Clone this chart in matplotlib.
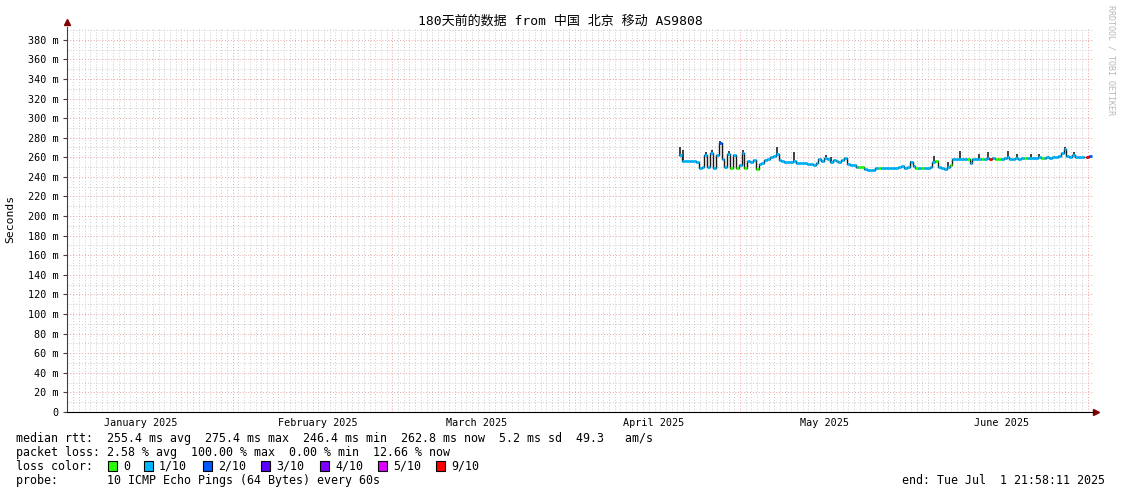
import matplotlib
matplotlib.use('Agg')
import matplotlib.pyplot as plt
import matplotlib.dates as mdates
from matplotlib.patches import Rectangle
import numpy as np
import pandas as pd

W, H, DPI = 1121, 494, 100
MONO = ['DejaVu Sans Mono', 'Noto Sans CJK SC']

title = '180天前的数据 from 中国 北京 移动 AS9808'
graph_start = pd.Timestamp('2025-01-02 21:58:11')
graph_end = pd.Timestamp('2025-07-01 21:58:11')
data_start = pd.Timestamp('2025-04-20 06:00')

# median rtt (ms), one value per 12 h step
median = [
    262, 256, 256, 256, 256, 256, 255, 249, 250, 262,
    250, 264, 249, 262, 275, 258, 250, 263, 249, 262,
    249, 252, 264, 249, 256, 255, 257, 248, 253, 254,
    257, 258, 260, 261, 263, 257, 256, 255, 255, 255,
    256, 254, 254, 254, 254, 253, 253, 252, 254, 258,
    256, 259, 258, 255, 257, 256, 255, 257, 259, 253,
    252, 252, 250, 250, 250, 248, 247, 247, 247, 249,
    249.5, 249, 249, 249.5, 249, 249.5, 249, 250, 251, 249.5,
    250, 255, 251, 249.5, 249.5, 249, 249.5, 249.5, 250, 255,
    256, 250, 249, 248.5, 250, 252, 258, 258.5, 258.5, 258,
    258.5, 258, 254, 258, 258.5, 258.5, 258, 258.5, 259, 258,
    259, 258, 258, 258.5, 259, 260, 258.5, 258.5, 259, 258.5,
    259, 259, 259.5, 259.5, 259.5, 259.5, 260, 259.5, 259.5, 260,
    259.5, 260, 260, 261, 264, 268, 261, 260, 262, 260,
    260, 260, np.nan, 260, 261,
]

# lost pings out of 10 for each step
loss = [
    1, 1, 1, 1, 1, 1, 1, 1, 1, 1,
    1, 1, 1, 1, 2, 1, 1, 1, 0, 1,
    0, 1, 1, 0, 1, 1, 1, 0, 1, 1,
    1, 1, 1, 1, 1, 1, 1, 1, 1, 1,
    1, 1, 1, 1, 1, 1, 1, 1, 1, 1,
    1, 1, 1, 1, 1, 1, 1, 1, 1, 1,
    1, 1, 1, 0, 0, 1, 1, 1, 1, 1,
    0, 1, 1, 1, 1, 1, 1, 1, 1, 1,
    1, 1, 1, 0, 1, 0, 1, 1, 1, 1,
    0, 1, 1, 1, 1, 0, 1, 1, 1, 1,
    1, 0, 1, 1, 1, 1, 0, 1, 1, 9,
    1, 0, 0, 1, 1, 1, 1, 1, 1, 1,
    1, 0, 1, 1, 1, 1, 1, 0, 1, 1,
    1, 1, 1, 1, 1, 1, 1, 1, 1, 1,
    1, 1, 1, 9, 2,
]

# smoke peaks (max ping) at some steps
spike_idx = [0, 1, 9, 11, 14, 17, 22, 34, 40, 51, 53, 81, 89, 94, 98, 105, 108, 115, 118, 123, 126, 135, 138]
spike_top = [270, 267, 265, 267, 277, 266, 267, 270, 265, 262, 260, 256, 261, 255, 266, 263, 265, 266, 263, 263, 263, 271, 265]

loss_codes = [0, 1, 2, 3, 4, 5, 9]
loss_labels = ['0', '1/10', '2/10', '3/10', '4/10', '5/10', '9/10']
loss_colors = ['#26ff00', '#00b8ff', '#0059ff', '#5e00ff', '#7e00ff', '#dd00ff', '#ff0000']

month_labels = ['January 2025', 'February 2025', 'March 2025', 'April 2025', 'May 2025', 'June 2025']

median = np.array(median, dtype=float)
loss = np.array(loss)
t = mdates.date2num(pd.date_range(data_start, periods=len(median), freq='12h'))
step = t[1] - t[0]

fig = plt.figure(figsize=(W / DPI, H / DPI), dpi=DPI)
ax = fig.add_axes([67 / W, 1 - 412 / H, (1093 - 67) / W, (412 - 27) / H])

# grid
minor_c = '#cccccc'
major_c = '#f0a0a0'
for d in pd.date_range('2025-01-03', '2025-07-01', freq='D'):
    c = major_c if d.day == 1 else minor_c
    ax.axvline(mdates.date2num(d), color=c, lw=0.7, ls=(0, (1, 2)), zorder=0)
for v in range(10, 393, 10):
    c = major_c if v % 20 == 0 else minor_c
    ax.axhline(v, color=c, lw=0.7, ls=(0, (1, 2)), zorder=0)

# median line with smoke
ax.plot(t, median, drawstyle='steps-post', color='#1a1a1a', lw=1.0, zorder=2)
ax.vlines(t[spike_idx] + step / 2, median[spike_idx], spike_top, color='#202020', lw=1.2, zorder=2)
for code, col in zip(loss_codes, loss_colors):
    m = loss == code
    if m.any():
        ax.hlines(median[m], t[m], t[m] + step, colors=col, lw=2.0, zorder=3)

# axes
for s in ['top', 'right']:
    ax.spines[s].set_visible(False)
ax.spines['left'].set_color('#404040')
ax.spines['bottom'].set_color('black')
ax.plot([0], [1.012], marker='^', color='#7f0000', ms=4, transform=ax.transAxes, clip_on=False)
ax.plot([1.003], [0], marker='>', color='#7f0000', ms=4, transform=ax.transAxes, clip_on=False)

yt = list(range(0, 381, 20))
ax.set_yticks(yt)
ax.set_yticklabels(['0'] + ['%d m' % v for v in yt[1:]], family=MONO, fontsize=7.3)
ax.tick_params(axis='y', length=3, width=0.8, pad=3, color='#404040')

# month labels near the middle of each month
label_days = pd.date_range('2025-01-01', periods=len(month_labels), freq='MS') + pd.Timedelta(days=14, hours=20)
ax.set_xticks(mdates.date2num(label_days))
ax.set_xticklabels(month_labels, family=MONO, fontsize=7.3)
ax.tick_params(axis='x', length=0, pad=4)

ax.set_xlim(mdates.date2num(graph_start), mdates.date2num(graph_end))
ax.set_ylim(0, 393)

fig.text(10 / W, 1 - 219 / H, 'Seconds', family=MONO, fontsize=8.2, rotation=90,
         ha='center', va='center')

fig.text(560 / W, 1 - 21 / H, title, family=MONO, fontsize=9.4, ha='center', va='center')
fig.text(1111 / W, 1 - 5 / H, 'RRDTOOL / TOBI OETIKER', family=MONO, fontsize=6,
         color='#b8b8b8', rotation=270, ha='center', va='top')

# legend block
fs = 8.4
def line(x, y, s, **kw):
    fig.text(x / W, 1 - y / H, s, family=MONO, fontsize=fs, va='center', **kw)

line(16, 438, 'median rtt:  255.4 ms avg  275.4 ms max  246.4 ms min  262.8 ms now  5.2 ms sd  49.3   am/s')
line(16, 452, 'packet loss: 2.58 % avg  100.00 % max  0.00 % min  12.66 % now')
line(16, 466, 'loss color:')
box_x = [108, 144, 203, 261, 320, 378, 436]
for bx, lab, col in zip(box_x, loss_labels, loss_colors):
    fig.patches.append(Rectangle((bx / W, 1 - 471 / H), 9 / W, 10 / H, transform=fig.transFigure,
                                 facecolor=col, edgecolor='black', lw=0.8))
    line(bx + 15, 466, lab)
line(16, 480, 'probe:       10 ICMP Echo Pings (64 Bytes) every 60s')
line(1105, 480, 'end: Tue Jul  1 21:58:11 2025', ha='right')

fig.savefig('out.png', dpi=DPI)
